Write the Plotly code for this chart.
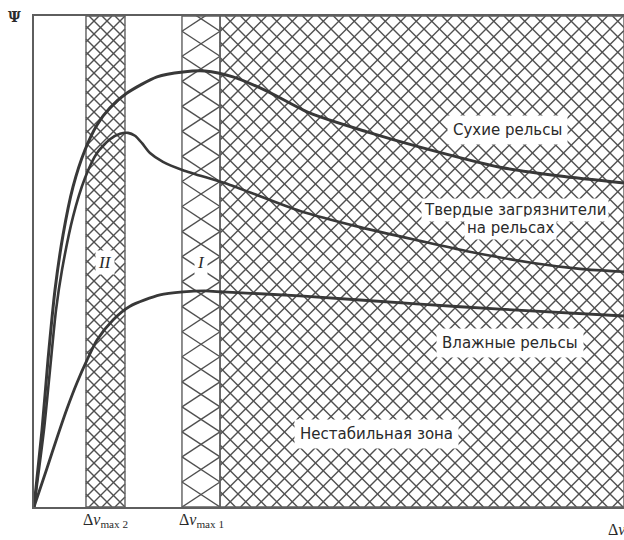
import plotly.graph_objects as go

# Slip Δv (arbitrary units, 0..10) vs adhesion ψ (0..1)
X_RANGE = [0.0, 10.0]
Y_RANGE = [0.0, 1.0]

# Slip zones
band_II = [0.881, 1.542]      # around Δv_max 2
band_I = [2.508, 3.153]       # around Δv_max 1
unstable = [3.153, 10.0]      # unstable zone

# ψ(Δv) for the three rail conditions
dry_x = [0.0, 0.136, 0.237, 0.356, 0.492, 0.661, 0.864, 1.068, 1.288, 1.576,
         2.085, 2.525, 2.898, 3.373, 3.949, 4.678, 5.644, 6.542, 7.898, 8.915, 10.0]
dry_y = [0.0, 0.157, 0.299, 0.442, 0.554, 0.652, 0.727, 0.778, 0.813, 0.843,
         0.876, 0.886, 0.888, 0.876, 0.847, 0.802, 0.764, 0.733, 0.692, 0.674, 0.660]

cont_x = [0.0, 0.169, 0.271, 0.373, 0.475, 0.661, 0.864, 1.068, 1.288, 1.458,
          1.593, 1.712, 1.831, 1.966, 2.186, 2.525, 3.322, 4.508, 5.525, 6.542,
          7.339, 8.458, 9.254, 10.0]
cont_y = [0.0, 0.157, 0.279, 0.401, 0.483, 0.591, 0.670, 0.721, 0.749, 0.760,
          0.762, 0.756, 0.741, 0.721, 0.703, 0.686, 0.656, 0.603, 0.570, 0.542,
          0.521, 0.497, 0.485, 0.479]

wet_x = [0.0, 0.220, 0.390, 0.559, 0.729, 0.898, 1.068, 1.339, 1.627, 2.136,
         2.525, 2.898, 3.203, 4.508, 6.542, 7.898, 10.0]
wet_y = [0.0, 0.079, 0.141, 0.200, 0.253, 0.299, 0.340, 0.381, 0.409, 0.432,
         0.438, 0.440, 0.438, 0.430, 0.413, 0.403, 0.389]

HATCH = "#505050"
EDGE = "#5e5e5e"
CURVE = "#383838"
TEXT = "#2a2a2a"

# plot-area size in pixels, used to keep the hatching at true 45°
PLOT_W, PLOT_H = 590, 491
PX_X = PLOT_W / (X_RANGE[1] - X_RANGE[0])
PX_Y = PLOT_H / (Y_RANGE[1] - Y_RANGE[0])


def diamond_hatch(x0, x1, period_px):
    """Two families of 45° lines clipped to the band [x0, x1] x [0, 1]."""
    run = PX_Y / PX_X          # horizontal extent of a 45° line over full height
    p = period_px / PX_X
    xs, ys = [], []
    c = x0 - run
    while c < x1:
        t0 = max(0.0, (x0 - c) / run)
        t1 = min(1.0, (x1 - c) / run)
        if t1 > t0:
            xs += [c + t0 * run, c + t1 * run, None, c + t0 * run, c + t1 * run, None]
            ys += [t0, t1, None, 1 - t0, 1 - t1, None]
        c += p
    return xs, ys


def x_hatch(x0, x1, step):
    """Flattened X marks stacked vertically across the band width."""
    xs, ys = [], []
    k = -1
    while k * step < 1.0 + step:
        y0 = k * step
        xs += [x0, x1, None, x0, x1, None]
        ys += [y0, y0 + step, None, y0 + step, y0, None]
        k += 1
    return xs, ys


def rect(x0, x1):
    return [x0, x1, x1, x0, x0], [0, 0, 1, 1, 0]


fig = go.Figure()

hatches = [diamond_hatch(*unstable, 15.5), diamond_hatch(*band_II, 13), x_hatch(*band_I, 0.051)]
for hx, hy in hatches:
    fig.add_trace(go.Scatter(x=hx, y=hy, mode="lines", line=dict(color=HATCH, width=1.4),
                             hoverinfo="skip", showlegend=False))

for band in (band_II, band_I, unstable):
    ex, ey = rect(*band)
    fig.add_trace(go.Scatter(x=ex, y=ey, mode="lines", line=dict(color=EDGE, width=1.4),
                             hoverinfo="skip", showlegend=False))

# Adhesion curves
for xs, ys, w in [(dry_x, dry_y, 3.0), (cont_x, cont_y, 2.6), (wet_x, wet_y, 2.8)]:
    fig.add_trace(go.Scatter(x=xs, y=ys, mode="lines",
                             line=dict(color=CURVE, width=w, shape="spline", smoothing=0.7),
                             hoverinfo="skip", showlegend=False))

sans = dict(family="DejaVu Sans", size=15, color=TEXT)
serif = dict(family="Liberation Serif", size=16, color=TEXT)


def label(text, x, y, font=sans, pad=4):
    fig.add_annotation(x=x, y=y, text=text, showarrow=False, font=font,
                       bgcolor="white", borderpad=pad, xanchor="center", yanchor="middle")


label("Сухие рельсы", 8.02, 0.768, pad=5)
label("Твердые загрязнители", 8.15, 0.605, pad=2)
label("на рельсах", 8.07, 0.568, pad=2)
label("Влажные рельсы", 8.07, 0.334, pad=5)
label("Нестабильная зона", 5.80, 0.149, pad=5)
label("<i>II</i>", sum(band_II) / 2, 0.497, font=dict(family="Liberation Serif", size=17, color=TEXT), pad=2)
label("<i>I</i>", sum(band_I) / 2, 0.497, font=dict(family="Liberation Serif", size=17, color=TEXT), pad=2)

# Axis symbols
fig.add_annotation(xref="paper", yref="paper", x=0, y=1, xshift=-20, yshift=-1,
                   text="<b>Ψ</b>", showarrow=False, xanchor="center", yanchor="middle",
                   font=dict(family="DejaVu Serif", size=14, color=TEXT))
fig.add_annotation(x=sum(band_II) / 2, y=0, yref="paper", yanchor="top", yshift=-2,
                   text="Δ<i>v</i><sub>max 2</sub>", showarrow=False, font=serif)
fig.add_annotation(x=sum(band_I) / 2, y=0, yref="paper", yanchor="top", yshift=-2,
                   text="Δ<i>v</i><sub>max 1</sub>", showarrow=False, font=serif)
fig.add_annotation(xref="paper", yref="paper", x=0.9695, y=0, xanchor="left", yanchor="top",
                   yshift=-12, text="Δ<i>v</i>", showarrow=False, font=serif)

axis_common = dict(showgrid=False, zeroline=False, showticklabels=False, ticks="",
                   showline=True, linecolor="#5e5e5e", linewidth=1.5)
fig.update_layout(
    width=624, height=540,
    margin=dict(l=34, r=0, t=16, b=33),
    paper_bgcolor="white", plot_bgcolor="white",
    xaxis=dict(range=X_RANGE, mirror=True, **axis_common),
    yaxis=dict(range=Y_RANGE, **axis_common),
)

fig.write_html("out.html")
